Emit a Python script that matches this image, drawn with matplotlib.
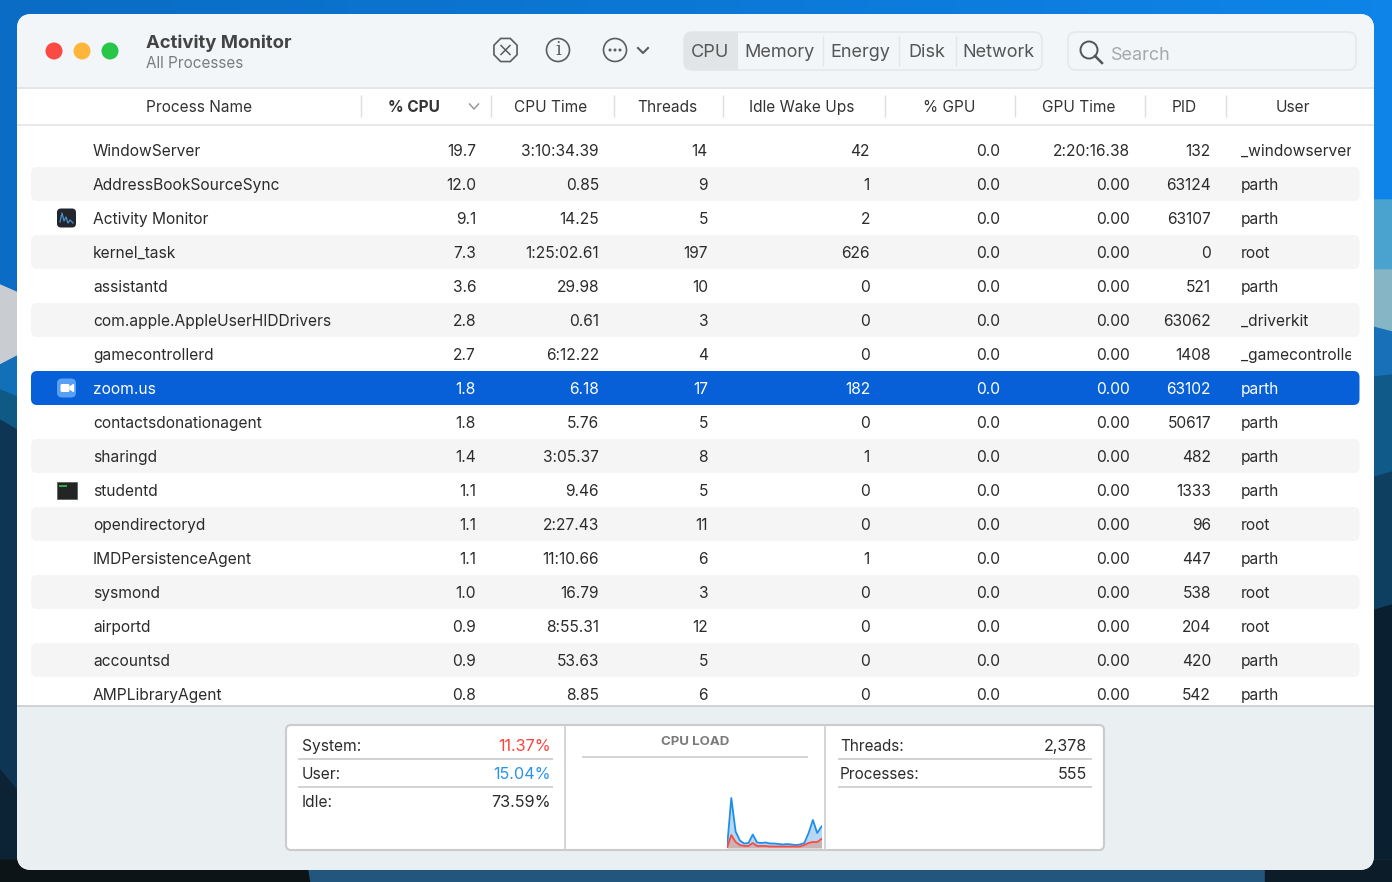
import numpy as np
import matplotlib
matplotlib.use("Agg")
import matplotlib.pyplot as plt
from matplotlib.patches import FancyBboxPatch, Rectangle, Circle, RegularPolygon
from matplotlib.colors import LinearSegmentedColormap

# ---------- data ----------
names = ["WindowServer", "AddressBookSourceSync", "Activity Monitor", "kernel_task", "assistantd",
         "com.apple.AppleUserHIDDrivers", "gamecontrollerd", "zoom.us", "contactsdonationagent",
         "sharingd", "studentd", "opendirectoryd", "IMDPersistenceAgent", "sysmond", "airportd",
         "accountsd", "AMPLibraryAgent"]
cpu_pct = ["19.7", "12.0", "9.1", "7.3", "3.6", "2.8", "2.7", "1.8", "1.8", "1.4", "1.1", "1.1", "1.1", "1.0", "0.9", "0.9", "0.8"]
cpu_time = ["3:10:34.39", "0.85", "14.25", "1:25:02.61", "29.98", "0.61", "6:12.22", "6.18", "5.76",
            "3:05.37", "9.46", "2:27.43", "11:10.66", "16.79", "8:55.31", "53.63", "8.85"]
threads = ["14", "9", "5", "197", "10", "3", "4", "17", "5", "8", "5", "11", "6", "3", "12", "5", "6"]
idle_wake = ["42", "1", "2", "626", "0", "0", "0", "182", "0", "1", "0", "0", "1", "0", "0", "0", "0"]
gpu_pct = ["0.0"] * 17
gpu_time = ["2:20:16.38"] + ["0.00"] * 16
pids = ["132", "63124", "63107", "0", "521", "63062", "1408", "63102", "50617", "482", "1333", "96", "447", "538", "204", "420", "542"]
users = ["_windowserver", "parth", "parth", "root", "parth", "_driverkit", "_gamecontroller", "parth", "parth",
         "parth", "parth", "root", "parth", "root", "root", "parth", "parth"]
headers = ["Process Name", "% CPU", "CPU Time", "Threads", "Idle Wake Ups", "% GPU", "GPU Time", "PID", "User"]
tabs = ["CPU", "Memory", "Energy", "Disk", "Network"]
left_stats = [("System:", "11.37%", "#f9443c"), ("User:", "15.04%", "#2a94e8"), ("Idle:", "73.59%", "#2b2b2b")]
right_stats = [("Threads:", "2,378"), ("Processes:", "555")]
load_system = [0, 13, 6, 3, 2, 2, 5, 2, 2, 2, 1.5, 1.5, 1.5, 1.5, 1.5, 1.5, 1.5, 1.5, 3, 5, 6, 6, 9]
load_user = [0, 37, 10.5, 4.5, 2.5, 3, 8.5, 3.5, 3, 3.5, 3, 3, 2.5, 2, 2.5, 2, 1.5, 2, 2, 10, 22, 9, 12.5]

# ---------- canvas ----------
plt.rcParams["font.family"] = ["Inter", "DejaVu Sans"]
W, H = 1392, 882
fig = plt.figure(figsize=(W / 100, H / 100), dpi=100)
ax = fig.add_axes([0, 0, 1, 1])
ax.set_xlim(0, W)
ax.set_ylim(H, 0)
ax.axis("off")

# ---------- wallpaper ----------
sky = LinearSegmentedColormap.from_list("sky", ["#0a6cc4", "#0e84e8"])
ax.imshow(np.linspace(0, 1, 64).reshape(1, -1), extent=(0, W, 330, 0), cmap=sky, aspect="auto", zorder=0)
ax.fill([0, 25, 25, 0], [285, 296, 352, 365], color="#c9cdd1", zorder=1)
ax.fill([0, 25, 25, 0], [365, 352, 885, 885], color="#1170b8", zorder=1)
ax.fill([0, 25, 25, 0], [390, 400, 885, 885], color="#0f5a85", zorder=1)
ax.fill([0, 25, 25, 0], [420, 435, 885, 885], color="#0f3555", zorder=1)
ax.fill([0, 25, 25, 0], [770, 800, 885, 885], color="#0b2335", zorder=1)
ax.fill([1365, W, W, 1365], [200, 200, 332, 325], color="#4aa2cf", zorder=1)
ax.fill([1365, W, W, 1365], [270, 270, 332, 325], color="#86b6c6", zorder=1)
ax.fill([1365, W, W, 1365], [325, 332, 885, 885], color="#1870b8", zorder=1)
ax.fill([1365, W, W, 1365], [378, 375, 885, 885], color="#0f5a88", zorder=1)
ax.fill([1365, W, W, 1365], [480, 472, 885, 885], color="#0f3f60", zorder=1)
ax.fill([1365, W, W, 1365], [613, 605, 885, 885], color="#0a2030", zorder=1)
ax.fill([0, W, W, 0], [860, 860, 885, 885], color="#22567c", zorder=1)
ax.fill([0, 306, 310, 0], [860, 860, 885, 885], color="#0d1418", zorder=1)
ax.fill([1265, W, W, 1265], [860, 860, 885, 885], color="#0c1c28", zorder=1)


def rrect(x0, y0, x1, y1, r, fc="none", ec="none", lw=0, z=3):
    p = FancyBboxPatch((x0, y0), x1 - x0, y1 - y0, boxstyle=f"round,pad=0,rounding_size={r}",
                       fc=fc, ec=ec, lw=lw, zorder=z)
    ax.add_patch(p)
    return p


def hline(x0, x1, y, c="#d0d3d5", lw=1.0, z=5):
    ax.plot([x0, x1], [y, y], color=c, lw=lw, zorder=z, solid_capstyle="butt")


def vline(x, y0, y1, c="#dcdfe1", lw=1.0, z=5):
    ax.plot([x, x], [y0, y1], color=c, lw=lw, zorder=z, solid_capstyle="butt")


def label(x, y, s, size=11.2, color="#2b2b2b", ha="left", weight="normal", **kw):
    return ax.text(x, y, s, fontsize=size, color=color, ha=ha, va="baseline", fontweight=weight, zorder=6, **kw)


# ---------- window ----------
win = rrect(17, 14, 1374, 870, 15, fc="#ffffff", z=2)
for y0, y1, c in [(14, 88, "#f2f6f9"), (706, 870, "#eaeff2")]:
    r = Rectangle((17, y0), 1357, y1 - y0, fc=c, ec="none", zorder=3)
    ax.add_patch(r)
    r.set_clip_path(win)
hline(17, 1374, 88, "#e2e6e8", 1.4)
hline(17, 1374, 124.5, "#e6e8ea", 1.4)
hline(17, 1374, 706, "#cfd2d4", 1.4)

# traffic lights
for cx, c in zip([54, 82, 110], ["#fb4a43", "#fdb63a", "#27c648"]):
    ax.add_patch(Circle((cx, 51), 8.5, fc=c, ec="none", zorder=5))

label(146, 48, "Activity Monitor", size=13.3, color="#444444", weight="bold")
label(146, 67.5, "All Processes", size=11, color="#7c7c7c")

# toolbar icons
icon = "#5c5c5c"
ax.add_patch(RegularPolygon((505.5, 50), 8, radius=12.5, orientation=np.pi / 8, fc="none", ec=icon, lw=1.2, zorder=5))
ax.plot([501, 510], [45.5, 54.5], color=icon, lw=1.1, zorder=6)
ax.plot([501, 510], [54.5, 45.5], color=icon, lw=1.1, zorder=6)
ax.add_patch(Circle((558, 50), 11.5, fc="none", ec=icon, lw=1.2, zorder=5))
ax.text(558, 50, "i", fontsize=13, family="DejaVu Serif", color=icon, ha="center", va="center", zorder=6)
ax.add_patch(Circle((615, 50), 11.5, fc="none", ec=icon, lw=1.2, zorder=5))
for dx in (-5, 0, 5):
    ax.add_patch(Circle((615 + dx, 50), 1.5, fc=icon, ec="none", zorder=6))
ax.plot([638, 643, 648], [48, 53, 48], color=icon, lw=1.5, zorder=6)

# tabs
tab_edges = [684, 738, 823, 899, 956, 1042]
rrect(684, 32, 1042, 70, 8, fc="#f2f6f9", ec="#e5e8ea", lw=1.2, z=4)
sel = Rectangle((684, 32), 54, 38, fc="#e2e5e7", ec="none", zorder=4.5)
ax.add_patch(sel)
sel.set_clip_path(rrect(684, 32, 1042, 70, 8, z=1))
for e in tab_edges[2:-1]:
    vline(e, 36, 66, "#e3e6e8", 1.0)
for i, t in enumerate(tabs):
    label((tab_edges[i] + tab_edges[i + 1]) / 2 - 0.5, 56.8, t, size=13, color="#555555", ha="center")

# search
rrect(1068, 32, 1356, 70, 8, fc="#f2f6f9", ec="#e5e8ea", lw=1.2, z=4)
ax.add_patch(Circle((1089, 50), 8.5, fc="none", ec="#555555", lw=1.4, zorder=6))
ax.plot([1095, 1102], [56, 63], color="#555555", lw=1.8, zorder=6)
label(1111, 59.5, "Search", size=13, color="#a8a8a8")

# column headers
hdr_x = [199, 414, 551, 667, 802, 949, 1079, 1184, 1293]
for h, x in zip(headers, hdr_x):
    label(x, 111.8, h, size=11.1, color="#333333", ha="center", weight="bold" if h == "% CPU" else "normal")
for x in [361, 491, 614, 723, 885, 1015, 1145, 1226]:
    vline(x, 95, 117)
ax.plot([469.5, 474, 478.5], [104, 109, 104], color="#999999", lw=1.1, zorder=6)

# ---------- rows ----------
row0, row_h = 150, 34
clip = Rectangle((17, 125), 1334, 581, transform=ax.transData)
for i in range(len(names)):
    cy = row0 + i * row_h
    selected = names[i] == "zoom.us"
    if selected:
        rrect(31, cy - row_h / 2, 1359.5, cy + row_h / 2, 6, fc="#0860d8", z=3)
    elif i % 2 == 1:
        rrect(31, cy - row_h / 2, 1359.5, cy + row_h / 2, 6, fc="#f5f5f5", z=3)
    col = "#ffffff" if selected else "#2b2b2b"
    base = cy + 5.7
    label(93, base, names[i], color=col)
    for xr, arr in [(476, cpu_pct), (599, cpu_time), (708, threads), (870, idle_wake),
                    (1000, gpu_pct), (1130, gpu_time), (1211, pids)]:
        label(xr, base, arr[i], color=col, ha="right")
    t = label(1241, base, users[i], color=col)
    t.set_clip_path(clip)
    t.set_clip_on(True)

# app icons
cy = row0 + 2 * row_h
rrect(57, cy - 9.5, 76, cy + 9.5, 4, fc="#22262c", z=6)
ax.plot([60, 62, 64, 66, 68, 70, 73], [cy + 4, cy - 5, cy + 3, cy - 1, cy + 5, cy + 2, cy + 5], color="#4a8fc8", lw=0.9, zorder=7)
cy = row0 + 7 * row_h
rrect(57, cy - 9.5, 76, cy + 9.5, 5, fc="#5aa0f2", z=6)
rrect(60.5, cy - 4, 69.5, cy + 4, 1.5, fc="#ffffff", z=7)
ax.fill([70, 73.5, 73.5, 70], [cy - 1, cy - 3.5, cy + 3.5, cy + 1], color="#ffffff", zorder=7)
cy = row0 + 10 * row_h
ax.add_patch(Rectangle((57, cy - 8.5), 19.5, 17, fc="#222426", ec="#555555", lw=0.5, zorder=6))
hline(59, 67, cy - 4.5, "#39c84a", 1.2, z=7)

# ---------- footer panel ----------
rrect(286, 725, 1104, 850, 5, fc="#ffffff", ec="#c9cbcd", lw=1.5, z=4)
vline(565, 725, 850, "#cfd1d3", 1.3)
vline(825, 725, 850, "#cfd1d3", 1.3)
for i, (lab, val, c) in enumerate(left_stats):
    y = 745 + i * 28.2
    label(302, y + 5.7, lab)
    label(551, y + 5.7, val, size=11.7, color=c, ha="right")
    if i < 2:
        hline(298, 553, y + 13.5, "#c9cbcd", 1.2)
for i, (lab, val) in enumerate(right_stats):
    y = 745 + i * 28.2
    label(840, y + 5.7, lab, size=11)
    label(1087, y + 5.7, val, size=11.5, ha="right")
    hline(838, 1092, y + 13.5, "#c9cbcd", 1.2)
label(695, 745.2, "CPU LOAD", size=9.5, color="#7a7a7a", ha="center", weight="bold")
hline(582, 808, 757, "#cfd1d3", 1.3)

# sparkline, drawn in its own axes
spark = fig.add_axes([727 / W, 1 - 848 / H, 94.5 / W, 60 / H], facecolor="none", zorder=10)
t_idx = np.arange(len(load_system))
system = np.array(load_system, float)
total = system + np.array(load_user, float)
spark.fill_between(t_idx, system, total, color="#b6d8f4", lw=0)
spark.fill_between(t_idx, 0, system, color="#c9b3b3", lw=0)
spark.plot(t_idx, total, color="#1f8fea", lw=1.3)
spark.plot(t_idx, system, color="#fb4a40", lw=1.3)
spark.set_xlim(0, len(t_idx) - 1)
spark.set_ylim(0, 60)
spark.axis("off")

fig.savefig("out.png", dpi=100)
